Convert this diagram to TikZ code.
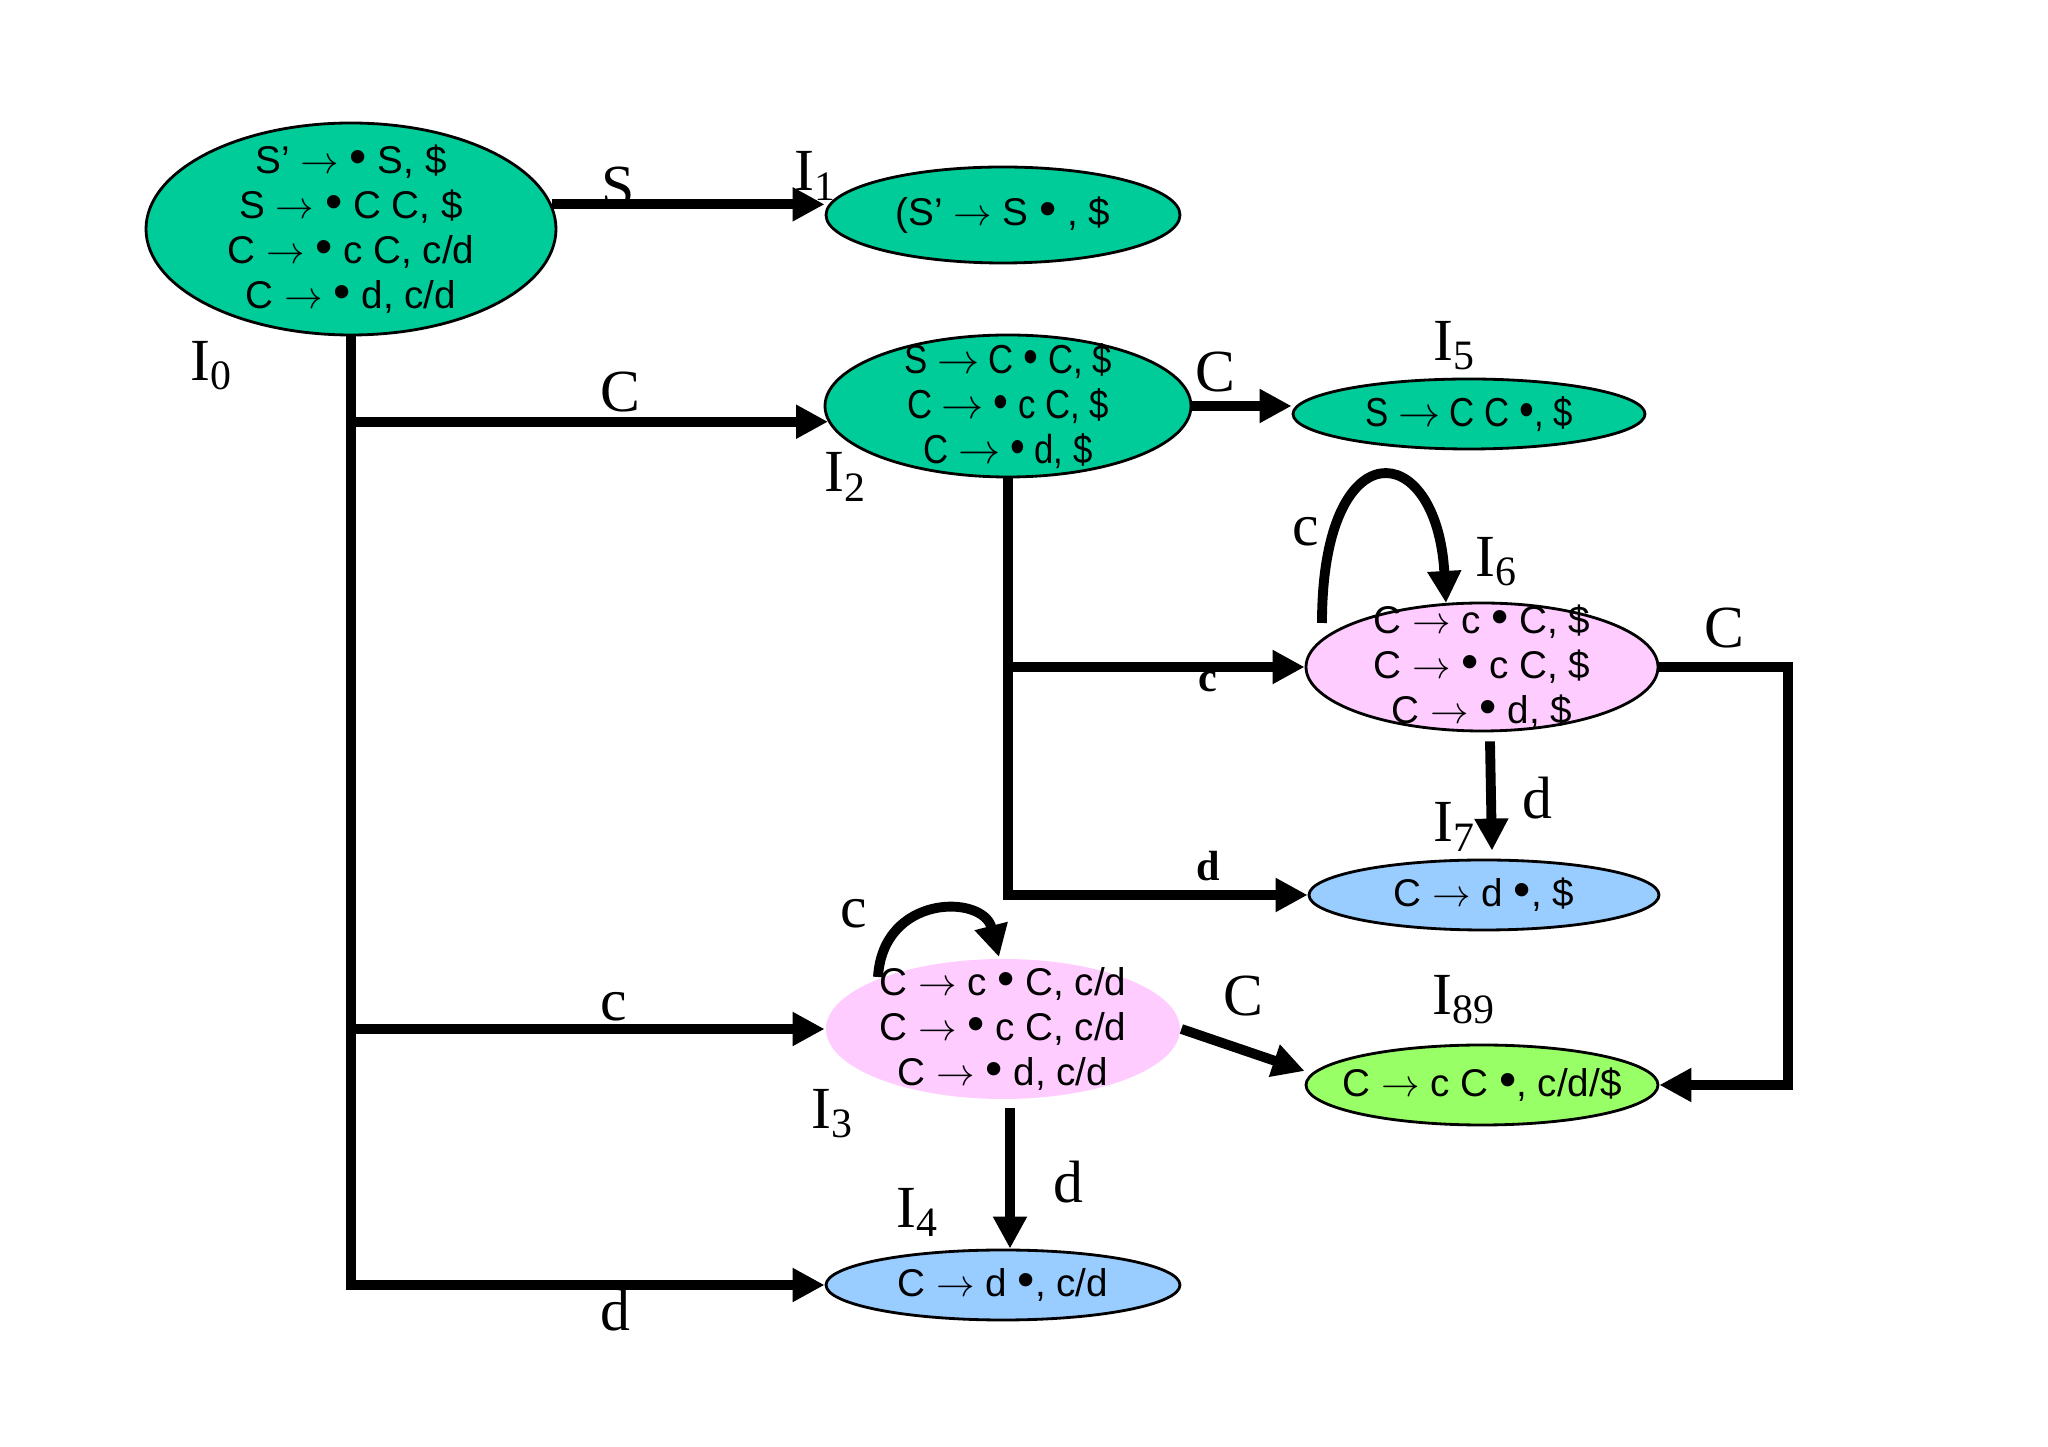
\documentclass[tikz,border=0pt]{standalone}
\usepackage{fontspec}
\setmainfont{Liberation Serif}
\newfontfamily\itemfont{Liberation Sans}
\newfontfamily\narrowfont[FakeStretch=0.86]{Liberation Sans}
\usetikzlibrary{arrows.meta,shapes.geometric}
\definecolor{stgreen}{HTML}{00CC99}
\definecolor{stpink}{HTML}{FFCCFF}
\definecolor{stblue}{HTML}{99CCFF}
\definecolor{stlime}{HTML}{99FF66}
\newcommand{\itarr}{$\rightarrow$}
\newcommand{\itdot}{{\fontsize{14}{12}\selectfont •}}

\begin{document}
\begin{tikzpicture}[
	st/.style={ellipse,draw=black,line width=0.8pt,inner sep=0pt},
	items/.style={align=center,inner sep=0pt,font=\itemfont\fontsize{11}{12.8}\selectfont},
	nitems/.style={items,font=\narrowfont\fontsize{11.5}{12.8}\selectfont},
	tag/.style={font=\fontsize{17}{17}\selectfont,inner sep=0pt},
	bsym/.style={font=\bfseries\fontsize{12}{12}\selectfont,inner sep=0pt},
	tr/.style={line width=2.8pt,-{Triangle[length=0.32cm,width=0.32cm]}}
	]
	\useasboundingbox (0,0) rectangle (20.48,-14.47);

	% item sets
	\node[st,fill=stgreen,minimum width=4.10cm,minimum height=2.12cm] (i0) at (3.51,-2.29) {};
	\node[st,fill=stgreen,minimum width=3.54cm,minimum height=0.96cm] (i1) at (10.03,-2.15) {};
	\node[st,fill=stgreen,minimum width=3.66cm,minimum height=1.42cm] (i2) at (10.08,-4.06) {};
	\node[st,fill=stgreen,minimum width=3.52cm,minimum height=0.70cm] (i5) at (14.69,-4.14) {};
	\node[st,fill=stpink,minimum width=3.52cm,minimum height=1.28cm] (i6) at (14.82,-6.67) {};
	\node[st,fill=stblue,minimum width=3.50cm,minimum height=0.70cm] (i7) at (14.84,-8.95) {};
	\node[st,draw=none,fill=stpink,minimum width=3.54cm,minimum height=1.40cm] (i3) at (10.03,-10.29) {};
	\node[st,fill=stlime,minimum width=3.52cm,minimum height=0.80cm] (i89) at (14.82,-10.85) {};
	\node[st,fill=stblue,minimum width=3.54cm,minimum height=0.70cm] (i4) at (10.03,-12.85) {};

	\node[items] (t0) at (i0) {S’ \itarr\ \itdot\ S, \$\\S \itarr\ \itdot\ C C, \$\\C \itarr\ \itdot\ c C, c/d\\C \itarr\ \itdot\ d, c/d};
	\node[items] (t1) at (i1) {(S’ \itarr\ S \itdot\ , \$};
	\node[nitems] (t2) at (i2) {S \itarr\ C \itdot\ C, \$\\C \itarr\ \itdot\ c C, \$\\C \itarr\ \itdot\ d, \$};
	\node[nitems] (t5) at (i5) {S \itarr\ C C \itdot, \$};
	\node[items] (t6) at (i6) {C \itarr\ c \itdot\ C, \$\\C \itarr\ \itdot\ c C, \$\\C \itarr\ \itdot\ d, \$};
	\node[items] (t7) at (i7) {C \itarr\ d \itdot, \$};
	\node[items] (t3) at (i3) {C \itarr\ c \itdot\ C, c/d\\C \itarr\ \itdot\ c C, c/d\\C \itarr\ \itdot\ d, c/d};
	\node[items] (t89) at (i89) {C \itarr\ c C \itdot, c/d/\$};
	\node[items] (t4) at (i4) {C \itarr\ d \itdot, c/d};

	% names of the sets
	\node[tag] (n0) at (2.12,-3.66) {I\textsubscript{0}};
	\node[tag] (n1) at (8.16,-1.76) {I\textsubscript{1}};
	\node[tag] (n2) at (8.46,-4.77) {I\textsubscript{2}};
	\node[tag] (n5) at (14.55,-3.46) {I\textsubscript{5}};
	\node[tag] (n6) at (14.97,-5.62) {I\textsubscript{6}};
	\node[tag] (n7) at (14.55,-8.27) {I\textsubscript{7}};
	\node[tag] (n3) at (8.33,-11.14) {I\textsubscript{3}};
	\node[tag] (n89) at (14.64,-10.00) {I\textsubscript{89}};
	\node[tag] (n4) at (9.18,-12.12) {I\textsubscript{4}};

	% transitions
	\draw[tr] (i0.7) -- (i0.7 -| i1.west);
	\draw[tr] (i0.south) |- (i2.185);
	\draw[tr] (i0.south) |- (i3.west);
	\draw[tr] (i0.south) |- (i4.west);
	\draw[tr] (i2.east) -- (i2.east -| i5.west);
	\draw[tr] (i2.south) |- (i6.west);
	\draw[tr] (i2.south) |- (i7.west);
	\draw[tr] ([shift={(-1.6,0.44)}]i6.center) .. controls +(0,1.96) and +(-0.09,1.66) .. ([shift={(-0.36,0.64)}]i6.center);
	\draw[tr] ([xshift=0.08cm,yshift=-0.09cm]i6.south) -- ([xshift=0.08cm,yshift=0.08cm]i7.north);
	\draw[tr] (i6.east) -- ++(1.29,0) |- (i89.east);
	\draw[tr] ([shift={(-1.25,0.52)}]i3.center) .. controls +(0.05,0.83) and +(-0.16,0.63) .. ([shift={(-0.04,0.72)}]i3.center);
	\draw[tr] (i3.east) -- ([yshift=0.14cm]i89.west);
	\draw[tr] ([xshift=0.07cm,yshift=-0.08cm]i3.south) -- ([xshift=0.07cm]i4.north);

	% symbols
	\node[tag] (sS) at (6.18,-1.87) {S};
	\node[tag] (sC0) at (6.20,-3.92) {C};
	\node[tag] (sc0) at (6.14,-10.07) {c};
	\node[tag] (sd0) at (6.15,-13.10) {d};
	\node[tag] (sC2) at (12.15,-3.72) {C};
	\node[bsym] (sc2) at (12.08,-6.82) {c};
	\node[bsym] (sd2) at (12.08,-8.66) {d};
	\node[tag] (sc6) at (13.06,-5.32) {c};
	\node[tag] (sd6) at (15.37,-7.98) {d};
	\node[tag] (sC6) at (17.24,-6.28) {C};
	\node[tag] (sc3) at (8.54,-9.14) {c};
	\node[tag] (sC3) at (12.43,-9.96) {C};
	\node[tag] (sd3) at (10.68,-11.82) {d};
\end{tikzpicture}
\end{document}
